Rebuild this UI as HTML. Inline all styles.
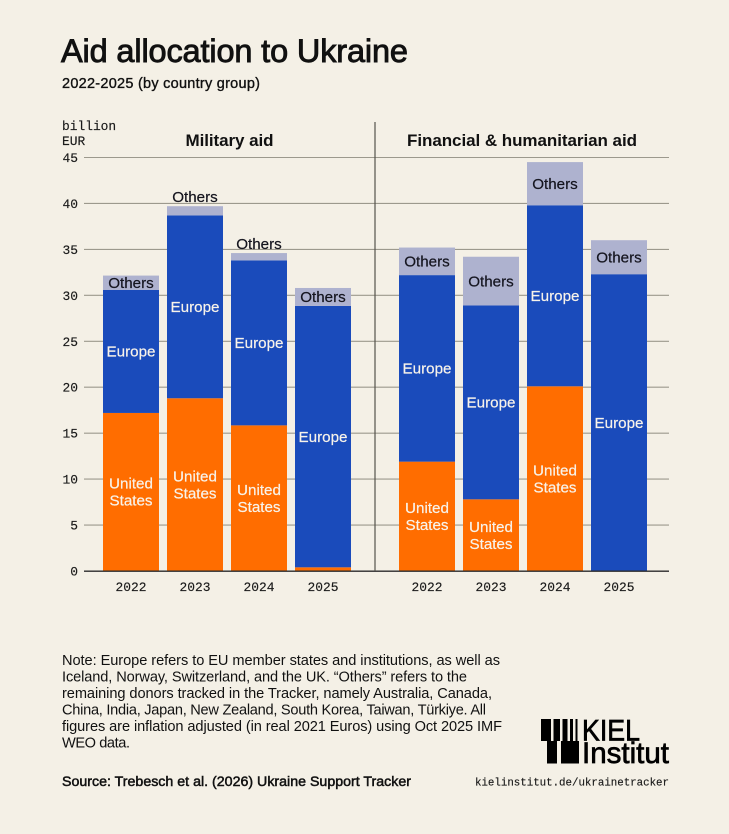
<!DOCTYPE html>
<html>
<head>
<meta charset="utf-8">
<title>Aid allocation to Ukraine</title>
<style>
html,body{margin:0;padding:0;background:#f4f0e6;}
svg{display:block;}
text{font-family:"Liberation Sans",sans-serif;fill:#111;}
.mono{font-family:"Liberation Mono",monospace;font-size:12.9px;fill:#1a1a1a;stroke:#1a1a1a;stroke-width:.15px;}
.bar-label{font-size:15.2px;text-anchor:middle;stroke-width:.2px;}
</style>
</head>
<body>
<svg id="chart" xmlns="http://www.w3.org/2000/svg" width="729" height="834" viewBox="0 0 729 834">
  <rect width="729" height="834" fill="#f4f0e6"/>
  <text x="61" y="62" font-size="32.5" textLength="347" lengthAdjust="spacing" style="stroke:#111;stroke-width:.9px">Aid allocation to Ukraine</text>
  <text x="62" y="88" font-size="14.5" textLength="198" lengthAdjust="spacing" style="stroke:#111;stroke-width:.35px">2022-2025 (by country group)</text>
  <text class="mono" x="62" y="130">billion</text>
  <text class="mono" x="62" y="145">EUR</text>
  <text x="229.5" y="146" font-size="17" font-weight="700" text-anchor="middle" textLength="88" lengthAdjust="spacing">Military aid</text>
  <text x="522" y="146" font-size="17" font-weight="700" text-anchor="middle" textLength="230" lengthAdjust="spacing">Financial &amp; humanitarian aid</text>
  <g id="grid"></g>
  <g id="bars"></g>
  <g id="axis"></g>

  <g font-size="14.6">
    <text x="62" y="665" textLength="438" lengthAdjust="spacing">Note: Europe refers to EU member states and institutions, as well as</text>
    <text x="62" y="681.5" textLength="405" lengthAdjust="spacing">Iceland, Norway, Switzerland, and the UK. “Others” refers to the</text>
    <text x="62" y="698" textLength="430" lengthAdjust="spacing">remaining donors tracked in the Tracker, namely Australia, Canada,</text>
    <text x="62" y="714.5" textLength="424" lengthAdjust="spacing">China, India, Japan, New Zealand, South Korea, Taiwan, Türkiye. All</text>
    <text x="62" y="731" textLength="440" lengthAdjust="spacing">figures are inflation adjusted (in real 2021 Euros) using Oct 2025 IMF</text>
    <text x="62" y="747.5" textLength="68" lengthAdjust="spacing">WEO data.</text>
  </g>
  <text x="62" y="786" font-size="14.2" textLength="349" lengthAdjust="spacing" style="stroke:#111;stroke-width:.5px">Source: Trebesch et al. (2026) Ukraine Support Tracker</text>
  <text class="mono" x="475" y="785.5" style="font-size:10.8px" textLength="194" lengthAdjust="spacing">kielinstitut.de/ukrainetracker</text>

  <g>
    <g fill="#000">
      <rect x="541" y="719" width="10" height="22"/>
      <rect x="553.5" y="719" width="6.5" height="22"/>
      <rect x="562.5" y="719" width="5" height="22"/>
      <rect x="570" y="719" width="3" height="22"/>
      <rect x="575.5" y="719" width="2" height="22"/>
      <rect x="547" y="741" width="10" height="22.5"/>
      <rect x="561" y="741" width="18" height="22.5"/>
    </g>
    <text x="582" y="740.5" font-size="30" textLength="58" lengthAdjust="spacingAndGlyphs" style="fill:#000;stroke:#000;stroke-width:.7px">KIEL</text>
    <text x="582" y="763" font-size="30" textLength="87" lengthAdjust="spacingAndGlyphs" style="fill:#000;stroke:#000;stroke-width:.7px">Institut</text>
  </g>
</svg>
<script>
var years = ["2022", "2023", "2024", "2025"];
var yTicks = [0, 5, 10, 15, 20, 25, 30, 35, 40, 45];
var militaryUS = [17.2, 18.8, 15.85, 0.4];
var militaryEurope = [13.4, 19.9, 17.95, 28.45];
var militaryOthers = [1.55, 1.0, 0.8, 1.95];
var financialUS = [11.9, 7.8, 20.1, 0];
var financialEurope = [20.3, 21.1, 19.7, 32.3];
var financialOthers = [3.0, 5.3, 4.7, 3.7];

var NS = "http://www.w3.org/2000/svg";
var COLORS = {us: "#ff6d00", europe: "#1a4bbb", others: "#aeb2cf"};
function yScale(v) { return 571 - v * (413.5 / 45); }
function xScale(panel, i) { return (panel === 0 ? 103 : 399) + i * 64; }
var BAR_W = 56;

function make(tag, attrs, parent) {
  var el = document.createElementNS(NS, tag);
  for (var k in attrs) el.setAttribute(k, attrs[k]);
  parent.appendChild(el);
  return el;
}

var grid = document.getElementById("grid");
var bars = document.getElementById("bars");
var axis = document.getElementById("axis");

yTicks.forEach(function (t) {
  var y = yScale(t);
  if (t > 0) {
    var line = make("line", {x1: 84, x2: 669, y1: y, y2: y, stroke: "#9c998d", "stroke-width": 1.1}, grid);
    
    
  }
  var label = make("text", {x: 78, y: y + 4.5, "text-anchor": "end", "class": "mono"}, axis);
  
  
  label.textContent = t;
});

function addLabel(lines, x, cy, color) {
  var lh = 17;
  lines.forEach(function (s, idx) {
    var t = make("text", {x: x, y: cy + 5.2 + (idx - (lines.length - 1) / 2) * lh, "class": "bar-label"}, bars);
    
    
    t.style.fill = color;
    t.style.stroke = color;
    t.textContent = s;
  });
}

function segment(x, v0, v1, color) {
  var r = make("rect", {x: x, y: yScale(v1), width: BAR_W, height: yScale(v0) - yScale(v1), fill: color}, bars);
  
  
}

function drawPanel(panel, us, eu, ot) {
  years.forEach(function (yr, i) {
    var x = xScale(panel, i), cx = x + BAR_W / 2;
    var a = us[i], b = a + eu[i], c = b + ot[i];
    if (a > 0) segment(x, 0, a, COLORS.us);
    segment(x, a, b, COLORS.europe);
    segment(x, b, c, COLORS.others);
    if (a > 2) addLabel(["United", "States"], cx, yScale(a / 2), "#f8f3ea");
    addLabel(["Europe"], cx, yScale((a + b) / 2), "#f8f3ea");
    if (ot[i] >= 1.5) addLabel(["Others"], cx, yScale((b + c) / 2), "#14141e");
    else addLabel(["Others"], cx, yScale(c) - 9.5, "#14141e");
    var tick = make("text", {x: cx, y: 591, "text-anchor": "middle", "class": "mono"}, axis);
    
    
    tick.textContent = yr;
  });
}
drawPanel(0, militaryUS, militaryEurope, militaryOthers);
drawPanel(1, financialUS, financialEurope, financialOthers);

var baseline = make("line", {x1: 84, x2: 669, y1: 571.2, y2: 571.2, stroke: "#2a2a2a", "stroke-width": 1.3}, axis);


var divider = make("line", {x1: 375, x2: 375, y1: 122, y2: 571, stroke: "#55534c", "stroke-width": 1.2}, axis);


</script>
</body>
</html>
